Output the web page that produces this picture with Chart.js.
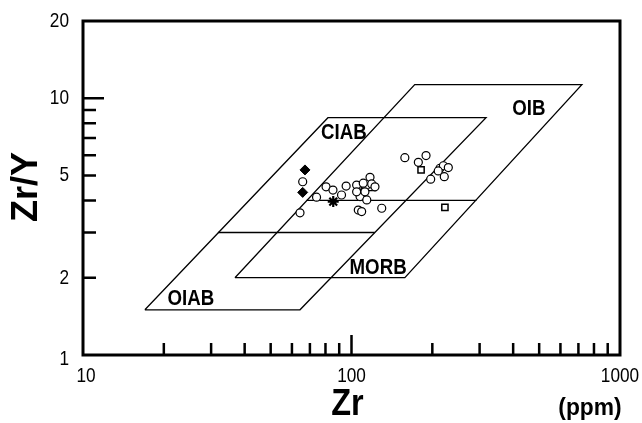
<!DOCTYPE html>
<html>
<head>
<meta charset="utf-8">
<script src="https://cdn.jsdelivr.net/npm/chart.js@4/dist/chart.umd.min.js"></script>
<style>
  html, body { margin: 0; padding: 0; background: #fff; }
  #wrap { width: 642px; height: 423px; }
</style>
</head>
<body>
<div id="wrap"><canvas id="zrChart" width="642" height="423"></canvas></div>
<script>
// tectonic fields (Zr ppm vs Zr/Y)
var fieldLeftZr = [17.0, 64.3, 317, 81.7, 17.0];
var fieldLeftZrY = [1.5, 1.5, 8.4, 8.4, 1.5];
var dividerLeftZr = [31.8, 122];
var dividerLeftZrY = [3, 3];
var fieldRightZr = [36.8, 158, 721, 172, 36.8];
var fieldRightZrY = [2, 2, 11.3, 11.3, 2];
var dividerRightZr = [68, 292];
var dividerRightZrY = [4, 4];

var fieldNames = ["OIAB", "CIAB", "MORB", "OIB"];
var fieldNameZr = [25.2, 93.7, 125.6, 458];
var fieldNameZrY = [1.66, 7.36, 2.19, 9.09];

// samples
var circleZr = [65.8, 64.3, 74.1, 80.4, 85.3, 91.8, 95.5, 104.5, 110.6, 117.2, 118.9, 122.3, 107.6, 114.0,
                106, 109.1, 129.6, 158, 177.4, 189.5, 197.2, 213.6, 219.9, 229.4, 210.4, 221.6, 104.5, 112.2];
var circleZrY = [4.73, 3.58, 4.12, 4.52, 4.39, 4.20, 4.55, 4.59, 4.67, 4.92, 4.64, 4.52, 4.14, 4.02,
                 3.67, 3.62, 3.73, 5.87, 5.63, 5.98, 4.84, 5.34, 5.46, 5.37, 5.21, 4.95, 4.32, 4.32];
var diamondZr = [67.1, 65.8];
var diamondZrY = [5.26, 4.30];
var squareZr = [181.6, 222.8];
var squareZrY = [5.26, 3.76];
var starZr = [85.5, 109.1];
var starZrY = [3.96, 4.33];
var triangleZr = [118.9];
var triangleZrY = [4.46];

var xTickLabels = [10, 100, 1000];
var yTickLabels = [1, 2, 5, 10, 20];
var xMinorTicks = [20, 30, 40, 50, 60, 70, 80, 90, 200, 300, 400, 500, 600, 700, 800, 900];
var yMinorTicks = [2, 3, 4, 5, 6, 7, 8, 9];

function pts(xs, ys) {
    return xs.map(function (v, i) { return { x: v, y: ys[i] }; });
}

function lineSet(xs, ys) {
    return {
        data: pts(xs, ys),
        showLine: true,
        borderColor: '#000',
        borderWidth: 1.3,
        pointRadius: 0,
        fill: false,
        order: 10
    };
}

function markerSet(xs, ys, style, r, fill, bw) {
    return {
        data: pts(xs, ys),
        pointStyle: style,
        pointRadius: r,
        backgroundColor: fill,
        borderColor: '#000',
        borderWidth: bw,
        order: 0
    };
}

function drawText(ctx, text, x, y, font, sx, align) {
    ctx.save();
    ctx.translate(x, y);
    ctx.scale(sx, 1);
    ctx.font = font;
    ctx.fillStyle = '#000';
    ctx.textAlign = align || 'center';
    ctx.textBaseline = 'middle';
    ctx.fillText(text, 0, 0);
    ctx.restore();
}

var frame = {
    id: 'frame',
    afterDraw: function (chart) {
        var ctx = chart.ctx;
        var xs = chart.scales.x, ys = chart.scales.y;
        var a = chart.chartArea;
        var ff = "'Liberation Sans', Arial, sans-serif";

        ctx.save();
        ctx.strokeStyle = '#000';
        ctx.lineWidth = 3;
        ctx.strokeRect(a.left, a.top, a.right - a.left, a.bottom - a.top);

        ctx.lineWidth = 2.5;
        ctx.beginPath();
        yMinorTicks.forEach(function (v) {
            var p = ys.getPixelForValue(v);
            ctx.moveTo(a.left, p); ctx.lineTo(a.left + 13, p);
        });
        var p10 = ys.getPixelForValue(10);
        ctx.moveTo(a.left, p10); ctx.lineTo(a.left + 21, p10);
        xMinorTicks.forEach(function (v) {
            var p = xs.getPixelForValue(v);
            ctx.moveTo(p, a.bottom); ctx.lineTo(p, a.bottom - 12);
        });
        var p100 = xs.getPixelForValue(100);
        ctx.moveTo(p100, a.bottom); ctx.lineTo(p100, a.bottom - 20);
        ctx.stroke();
        ctx.restore();

        yTickLabels.forEach(function (v) {
            var p = ys.getPixelForValue(v);
            if (v === 1) p += 4;
            drawText(ctx, String(v), a.left - 14, p, '21px ' + ff, 0.82, 'right');
        });
        xTickLabels.forEach(function (v) {
            var p = xs.getPixelForValue(v);
            if (v === 10) p += 3;
            drawText(ctx, String(v), p, a.bottom + 21, '21px ' + ff, 0.82, 'center');
        });

        fieldNames.forEach(function (n, i) {
            drawText(ctx, n, xs.getPixelForValue(fieldNameZr[i]), ys.getPixelForValue(fieldNameZrY[i]),
                'bold 22px ' + ff, 0.85, 'center');
        });

        drawText(ctx, 'Zr', xs.getPixelForValue(100) - 4, 405, 'bold 36px ' + ff, 0.9, 'center');
        drawText(ctx, '(ppm)', 590, 408, 'bold 24px ' + ff, 0.95, 'center');

        ctx.save();
        ctx.translate(27, 187);
        ctx.rotate(-Math.PI / 2);
        drawText(ctx, 'Zr/Y', 0, 0, 'bold 36px ' + ff, 1, 'center');
        ctx.restore();
    }
};

var canvas = document.getElementById("zrChart");
var ctx = canvas.getContext("2d");
var zrChart = new Chart(ctx, {
    type: 'scatter',
    data: {
        datasets: [
            lineSet(fieldLeftZr, fieldLeftZrY),
            lineSet(dividerLeftZr, dividerLeftZrY),
            lineSet(fieldRightZr, fieldRightZrY),
            lineSet(dividerRightZr, dividerRightZrY),
            markerSet(circleZr, circleZrY, 'circle', 4, '#fff', 1.2),
            markerSet(diamondZr, diamondZrY, 'rectRot', 5, '#000', 1),
            markerSet(squareZr, squareZrY, 'rect', 4.4, '#fff', 1.5),
            markerSet(starZr, starZrY, 'star', 5.5, '#000', 2.2),
            markerSet(triangleZr, triangleZrY, 'triangle', 4.5, '#fff', 1.2)
        ]
    },
    options: {
        responsive: false,
        animation: false,
        layout: { padding: { top: 21, right: 22, left: 0, bottom: 0 } },
        plugins: { legend: { display: false }, tooltip: { enabled: false } },
        scales: {
            x: {
                type: 'logarithmic', min: 10, max: 1000,
                grid: { display: false }, border: { display: false },
                ticks: { display: false },
                afterFit: function (s) { s.height = 68; }
            },
            y: {
                type: 'logarithmic', min: 1, max: 20,
                grid: { display: false }, border: { display: false },
                ticks: { display: false },
                afterFit: function (s) { s.width = 83; }
            }
        }
    },
    plugins: [frame]
});
</script>
</body>
</html>
